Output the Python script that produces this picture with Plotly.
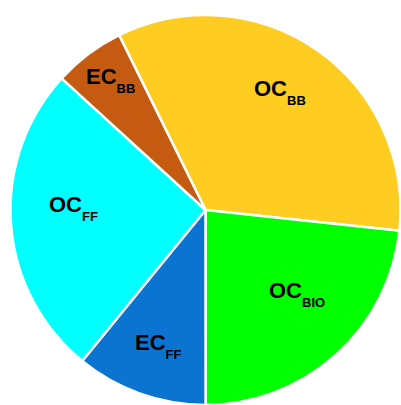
import math

import plotly.graph_objects as go

# Carbon source shares (%), clockwise from the EC_BB / OC_BB boundary
species = ["OC", "OC", "EC", "OC", "EC"]
sources = ["BB", "BIO", "FF", "FF", "BB"]
shares = [34.0, 23.3, 10.9, 25.9, 5.9]
colors = ["#FFCC22", "#00FF00", "#0A74D0", "#00FFFF", "#C55A11"]

# label centre: fraction of radius and nudge (deg) from the slice mid-angle
label_rfrac = [0.716, 0.636, 0.737, 0.679, 0.827]
label_nudge = [-2.9, -5.6, -0.4, 5.3, 0.8]

W, H = 401, 405
ROTATION = -26.3
DOM_X = [0.025, 1.0]
DOM_Y = [0.0, 0.963]
FONT = "Liberation Sans, Arial"

labels = [
    f"{a}<sub><span style='font-size:13px;baseline-shift:-3.5px'>{b}</span></sub>"
    for a, b in zip(species, sources)
]

fig = go.Figure()
fig.add_trace(
    go.Pie(
        labels=[f"{a}<sub>{b}</sub>" for a, b in zip(species, sources)],
        values=shares,
        sort=False,
        direction="clockwise",
        rotation=ROTATION,
        marker={"colors": colors, "line": {"color": "#FFFFFF", "width": 2.5}},
        textinfo="none",
        domain={"x": DOM_X, "y": DOM_Y},
        showlegend=False,
        hoverinfo="label+percent",
    )
)

# labels placed in the slices, from the slice angles
cx = (DOM_X[0] + DOM_X[1]) / 2 * W
cy = (DOM_Y[0] + DOM_Y[1]) / 2 * H
rad = min((DOM_X[1] - DOM_X[0]) * W, (DOM_Y[1] - DOM_Y[0]) * H) / 2
total = sum(shares)
start = ROTATION
for lab, v, rf, nd in zip(labels, shares, label_rfrac, label_nudge):
    span = v / total * 360
    mid = math.radians(start + span / 2 + nd)
    start += span
    px = cx + rf * rad * math.sin(mid)
    py = cy + rf * rad * math.cos(mid)
    fig.add_annotation(
        x=px / W,
        y=py / H,
        xref="paper",
        yref="paper",
        text=lab,
        showarrow=False,
        xanchor="center",
        yanchor="middle",
        font={"family": FONT, "size": 22, "color": "#000000", "weight": "bold"},
    )

fig.update_layout(
    width=W,
    height=H,
    margin={"t": 0, "b": 0, "l": 0, "r": 0},
    paper_bgcolor="#FFFFFF",
)

fig.write_html(
    "out.html",
    config={"displayModeBar": False},
    post_script="document.body.style.margin = '0';",
)
